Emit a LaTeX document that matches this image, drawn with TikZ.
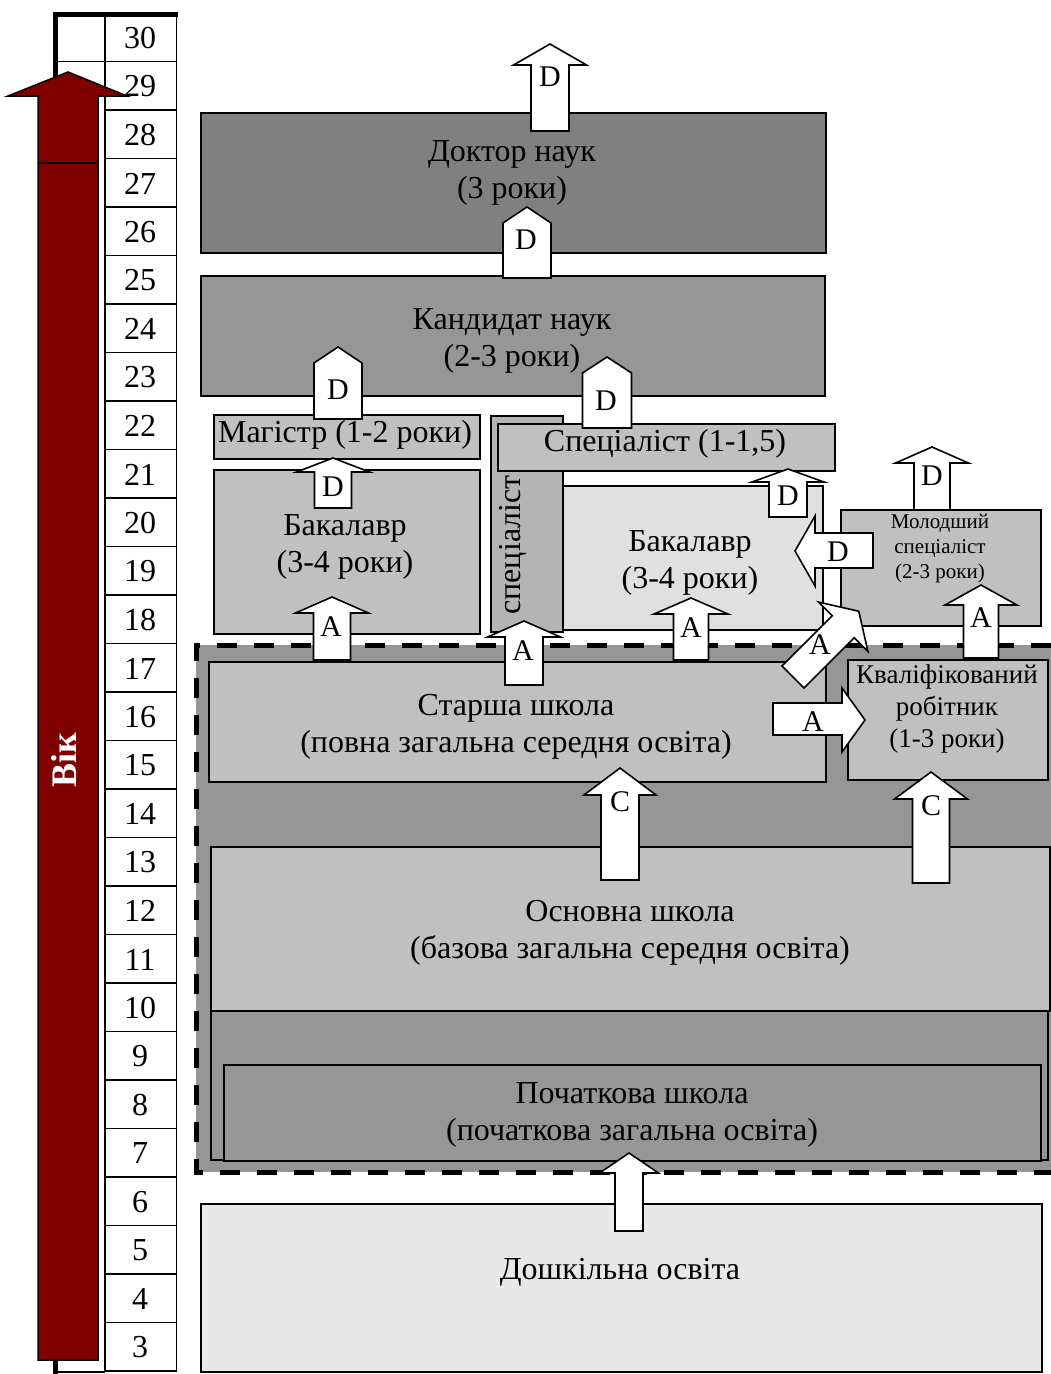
\documentclass[tikz,border=0pt]{standalone}
\usepackage{fontspec}
\setmainfont{Liberation Serif}
\definecolor{vikred}{HTML}{800000}
\definecolor{gA}{HTML}{808080}
\definecolor{gB}{HTML}{969696}
\definecolor{gC}{HTML}{C0C0C0}
\definecolor{gD}{HTML}{B4B4B4}
\definecolor{gE}{HTML}{E0E0E0}
\definecolor{gF}{HTML}{E8E8E8}
\tikzset{
  box/.style={draw=black, line width=1.6pt, inner sep=0pt},
  txt/.style={font=\fontsize{32}{37}\selectfont, align=center, inner sep=0pt},
  smalltxt/.style={font=\fontsize{21}{25}\selectfont, align=center, inner sep=0pt},
  lbl/.style={font=\fontsize{30}{30}\selectfont, inner sep=0pt},
  num/.style={font=\fontsize{32}{32}\selectfont, inner sep=0pt},
  barr/.style={draw=black, fill=white, line width=1.6pt, line join=miter},
  rulerline/.style={draw=black, line width=1.8pt},
}
% box: name, x1, y1, x2, y2, fill
\newcommand{\BoxAt}[6]{%
  \node[box, fill=#6, anchor=north west, minimum width={#4pt-#2pt}, minimum height={#5pt-#3pt}] (#1) at (#2,#3) {};}
% up block arrow: name, cx, tip y, head base y, bottom y, shaft half, head half
\newcommand{\UpArr}[7]{%
  \draw[barr] ({#2-#6},#5) -- ({#2-#6},#4) -- ({#2-#7},#4) -- (#2,#3) -- ({#2+#7},#4) -- ({#2+#6},#4) -- ({#2+#6},#5) -- cycle;
  \coordinate (#1) at (#2,#3);}
\begin{document}
\begin{tikzpicture}[x=1pt,y=-1pt]
\useasboundingbox (0,0) rectangle (1051,1374);
\fill[white] (0,0) rectangle (1051,1374);

% ---- age ruler ----
\foreach \k in {0,...,28} {\draw[rulerline] (105,{13+48.5*\k}) -- (177,{13+48.5*\k});}
\draw[rulerline] (55,61.5) -- (105,61.5);
\draw[rulerline] (55,1372) -- (105,1372);
\draw[rulerline] (105,13) -- (105,1372);
\draw[rulerline] (176.5,13) -- (176.5,1372);
\draw[line width=5pt] (55.5,1374) -- (55.5,14.5) -- (178,14.5);
\foreach \k in {0,...,27} {
  \pgfmathtruncatemacro{\n}{30-\k}
  \node[num] (r\n) at (140,{13+48.5*\k+25}) {\n};
}
% red age arrow
\draw[fill=vikred, line width=1.5pt, line join=miter] (38,1360) -- (38,96) -- (8,96) -- (68,72) -- (127,96) -- (98,96) -- (98,1360) -- cycle;
\draw[line width=1.5pt] (38,163) -- (98,163);
\node[rotate=90, text=white, font=\bfseries\fontsize{36}{36}\selectfont, inner sep=0pt] (vik) at (64,760) {Вік};

% ---- boxes ----
\BoxAt{doktor}{200}{112}{825}{252}{gA}
\BoxAt{kand}{200}{275}{824}{395}{gB}
\BoxAt{mag}{213}{414}{479}{458}{gC}
\BoxAt{bakL}{213}{469}{479}{633}{gC}
\BoxAt{specV}{490}{415}{562}{631}{gD}
\BoxAt{specH}{497}{423}{834}{470}{gC}
\BoxAt{bakR}{562}{485}{822}{629}{gE}
\BoxAt{molod}{840}{509}{1040}{625}{gC}
% dashed school region
\fill[gB] (196,645) rectangle (1051,1172);
\draw[line width=5pt, dash pattern=on 20pt off 17pt] (1051,645) -- (196,645) -- (196,1172) -- (1051,1172);
\BoxAt{starsha}{208}{661}{825}{781}{gC}
\BoxAt{kvalif}{847}{659}{1047}{779}{gC}
\BoxAt{osnovna}{210}{846}{1049}{1010}{gC}
\BoxAt{pochframe}{210}{1010}{1047}{1159}{gB}
\BoxAt{poch}{223}{1064}{1040}{1160}{gB}
\BoxAt{dosh}{200}{1203}{1041}{1371}{gF}

% ---- texts ----
\node[txt] (tdoktor) at (512,173) {Доктор наук\\(3 роки)};
\node[txt] (tkand) at (512,341) {Кандидат наук\\(2-3 роки)};
\node[txt] (tmag) at (345,435) {Магістр (1-2 роки)};
\node[txt] (tbakL) at (345,547) {Бакалавр\\(3-4 роки)};
\node[txt, rotate=90] (tspecV) at (513,545) {спеціаліст};
\node[txt] (tspecH) at (665,444) {Спеціаліст (1-1,5)};
\node[txt] (tbakR) at (690,563) {Бакалавр\\(3-4 роки)};
\node[smalltxt] (tmolod) at (940,549) {Молодший\\спеціаліст\\(2-3 роки)};
\node[txt] (tstarsha) at (516,727) {Старша школа\\(повна загальна середня освіта)};
\node[txt, font=\fontsize{27}{32}\selectfont] (tkvalif) at (947,709) {Кваліфікований\\робітник\\(1-3 роки)};
\node[txt] (tosnovna) at (630,933) {Основна школа\\(базова загальна середня освіта)};
\node[txt] (tpoch) at (632,1115) {Початкова школа\\(початкова загальна освіта)};
\node[txt] (tdosh) at (620,1272) {Дошкільна освіта};

% ---- block arrows ----
\UpArr{d1}{550}{44}{65}{131}{19}{36.5}
\node[lbl] (ld1) at (550,77) {D};
\UpArr{d2}{527}{207}{223}{278}{24}{24}
\node[lbl] (ld2) at (526,240) {D};
\UpArr{d3}{338}{347}{363}{419}{24}{24}
\node[lbl] (ld3) at (338,390) {D};
\UpArr{d4}{607}{357}{373}{428}{24.5}{24.5}
\node[lbl] (ld4) at (606,401) {D};
\UpArr{d5}{333}{458}{472}{508}{18.5}{36.5}
\node[lbl] (ld5) at (333,487) {D};
\UpArr{d6}{788}{469}{482}{517}{19}{36}
\node[lbl] (ld6) at (788,496) {D};
\UpArr{d8}{932}{447}{463}{510}{18}{36.5}
\node[lbl] (ld8) at (932,476) {D};
% left arrow D (molodshyi -> bakalavr)
\draw[barr] (873,533) -- (815,533) -- (815,516) -- (795,551) -- (815,586) -- (815,568) -- (873,568) -- cycle;
\node[lbl] (ld7) at (838,552) {D};

\UpArr{a1}{332}{597}{613}{660}{18.5}{36.5}
\node[lbl] (la1) at (331,627) {A};
\UpArr{a2}{524}{621}{637}{685}{19}{36.5}
\node[lbl] (la2) at (523,651) {A};
\UpArr{a3}{691}{598}{614}{660}{17.5}{37}
\node[lbl] (la3) at (691,628) {A};
\UpArr{a6}{981}{585}{605}{658}{17.5}{36}
\node[lbl] (la6) at (981,618) {A};
% diagonal arrow A
\begin{scope}[shift={(793,677)}, rotate=45]
  \draw[barr] (0,-15.5) -- (71,-15.5) -- (71,-35) -- (93,0) -- (71,35) -- (71,15.5) -- (0,15.5) -- cycle;
\end{scope}
\node[lbl] (la4) at (820,645) {A};
% right arrow A
\draw[barr] (773,703) -- (842,703) -- (842,688) -- (865,720) -- (842,752) -- (842,735) -- (773,735) -- cycle;
\node[lbl] (la5) at (813,722) {A};

\UpArr{c1}{620}{768}{795}{880}{19}{36}
\node[lbl] (lc1) at (620,802) {C};
\UpArr{c2}{931}{772}{799}{883}{18.5}{36.5}
\node[lbl] (lc2) at (931,806) {C};

\UpArr{b1}{629}{1153}{1173}{1231}{14}{29.5}
\end{tikzpicture}
\end{document}
